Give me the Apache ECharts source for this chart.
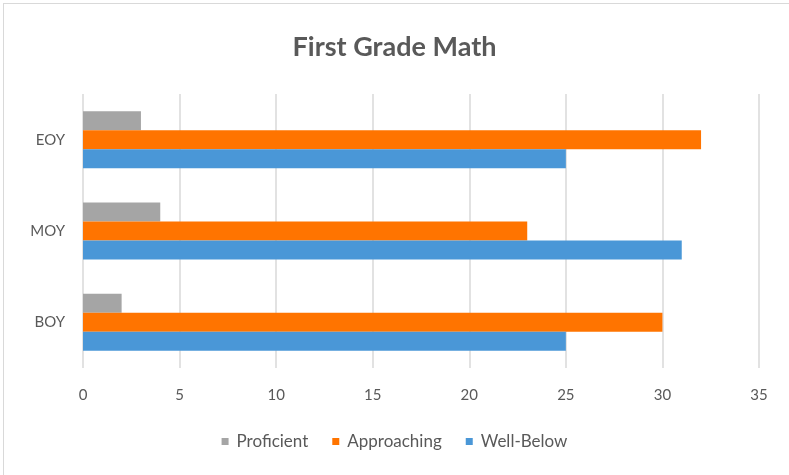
<!DOCTYPE html>
<html>
<head>
<meta charset="utf-8">
<script src="https://cdn.jsdelivr.net/npm/echarts@6/dist/echarts.min.js"></script>
<style>
  html, body { margin: 0; padding: 0; background: #fff; }
  #frame {
    position: absolute; left: 3px; top: 3px; width: 800px; height: 480px;
    border-left: 1.5px solid #d9d9d9; border-top: 1.5px solid #d9d9d9;
  }
  #chart { position: absolute; left: 0; top: 0; width: 789px; height: 475px; }
</style>
</head>
<body>
<div id="frame"></div>
<div id="chart"></div>
<script>
// periods, bottom to top
const periods = ['BOY', 'MOY', 'EOY'];
const proficient = [2, 4, 3];
const approaching = [30, 23, 32];
const wellBelow = [25, 31, 25];
const xTicks = [0, 5, 10, 15, 20, 25, 30, 35];

const font = 'Lato, "Open Sans", sans-serif';
const textColor = '#595959';

const myChart = echarts.init(document.getElementById('chart'));
const option = {
  animation: false,
  color: ['#a5a5a5', '#ff7400', '#4a97d7'],
  title: {
    text: 'First Grade Math',
    left: 'center',
    top: 29,
    textStyle: { fontFamily: font, fontSize: 27, fontWeight: 'bold', color: textColor },
  },
  legend: {
    bottom: 20,
    left: 'center',
    icon: 'rect',
    itemWidth: 7,
    itemHeight: 7,
    itemGap: 24,
    textStyle: { fontFamily: font, fontSize: 17, color: textColor, padding: [0, 0, 0, 3] },
  },
  grid: { left: 83, right: 30, top: 94, bottom: 107, containLabel: false },
  xAxis: {
    type: 'value',
    min: xTicks[0],
    max: xTicks[xTicks.length - 1],
    interval: 5,
    axisLine: { show: false },
    axisTick: { show: false },
    splitLine: { lineStyle: { color: '#d9d9d9', width: 1.5 } },
    axisLabel: { margin: 20, fontFamily: font, fontSize: 15, color: textColor },
  },
  yAxis: {
    type: 'category',
    data: periods,
    axisLine: { show: false },
    axisTick: { show: false },
    axisLabel: { margin: 18, fontFamily: font, fontSize: 15, color: textColor },
  },
  // first series sits at the top of each group
  series: [
    { name: 'Proficient', type: 'bar', data: proficient, barWidth: 19, barGap: 0 },
    { name: 'Approaching', type: 'bar', data: approaching, barWidth: 19, barGap: 0 },
    { name: 'Well-Below', type: 'bar', data: wellBelow, barWidth: 19, barGap: 0 },
  ],
};
myChart.setOption(option);
</script>
</body>
</html>
